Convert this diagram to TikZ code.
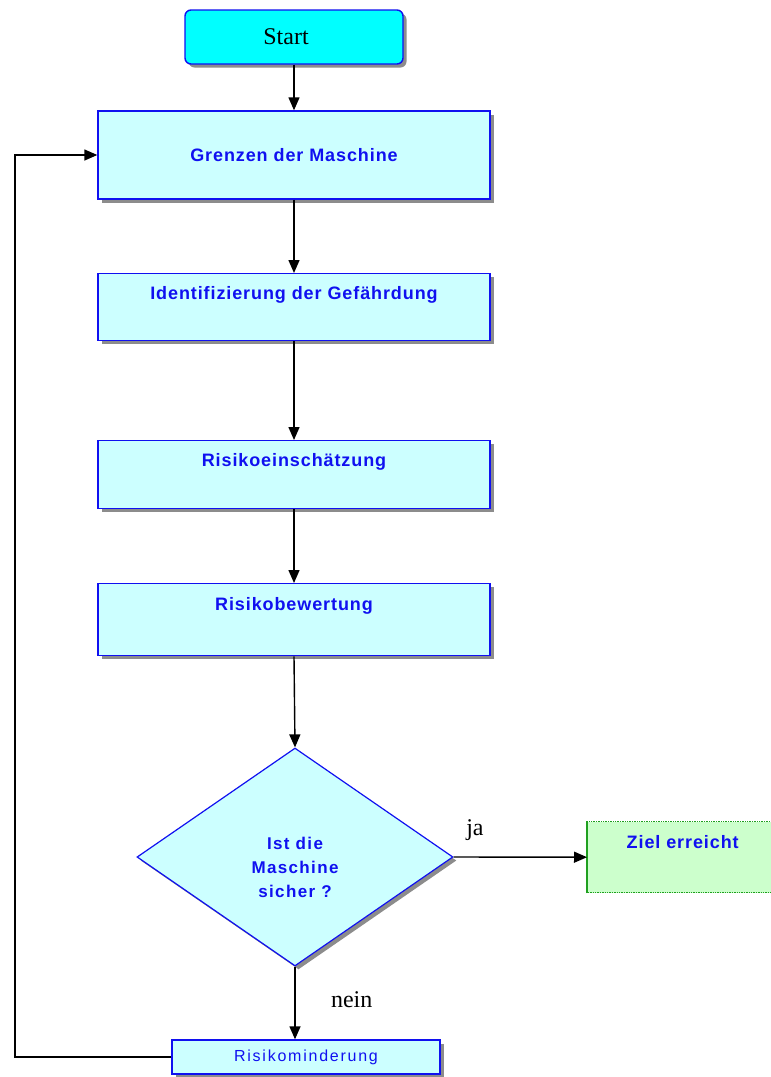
\documentclass[tikz,border=0pt]{standalone}
\usepackage{fontspec}
\setmainfont{Liberation Serif}
\setsansfont{Liberation Sans}
\newfontfamily\boxfont[LetterSpace=5]{Liberation Sans Bold}
\newfontfamily\diafont[LetterSpace=8]{Liberation Sans Bold}
\newfontfamily\rmfont[LetterSpace=11]{Liberation Sans}
\usetikzlibrary{arrows.meta,shapes.geometric,shadows}
\definecolor{startcyan}{HTML}{00FFFF}
\definecolor{lightcyan}{HTML}{CCFFFF}
\definecolor{lightgreen}{HTML}{CCFFCC}
\definecolor{boxblue}{HTML}{1010F0}
\definecolor{zielgreen}{HTML}{20A020}
\begin{document}
\begin{tikzpicture}[x=1pt,y=-1pt,
  shadowed/.style={drop shadow={shadow xshift=3.5pt,shadow yshift=-3.5pt,fill=black!45,opacity=1}},
  stepbox/.style={draw=boxblue,line width=1.4pt,fill=lightcyan,shadowed,inner xsep=0pt,inner ysep=0pt,
    minimum width=392pt,font=\boxfont\fontsize{18}{20}\selectfont,text=boxblue},
  diatext/.style={font=\diafont\fontsize{17}{24}\selectfont,text=boxblue,align=center},
  conn/.style={line width=1.4pt,-{Triangle[length=13pt,width=11pt]}},
  lbl/.style={font=\fontsize{24}{26}\selectfont,text=black}
]
\useasboundingbox (0,0) rectangle (771,1077);
\clip (0,0) rectangle (771,1077);

\node[draw=boxblue,line width=1.4pt,fill=startcyan,rounded corners=6pt,shadowed,
      minimum width=218pt,minimum height=54pt,font=\fontsize{24}{26}\selectfont] (start) at (294,37) {\kern-16pt Start};

\node[stepbox,text height=50pt,text depth=38pt] (g) at (294,155) {Grenzen der Maschine};
\node[stepbox,anchor=north,text height=26pt,text depth=41pt] (id) at (294,273) {Identifizierung der Gefährdung};
\node[stepbox,anchor=north,text height=26pt,text depth=42pt] (re) at (294,440) {Risikoeinschätzung};
\node[stepbox,anchor=north,text height=27pt,text depth=45pt] (rb) at (294,583) {Risikobewertung};

\node[diamond,draw=boxblue,line width=1.2pt,fill=lightcyan,shadowed,inner sep=0pt,
      minimum width=316pt,minimum height=218pt,
      label={[diatext,yshift=-10pt]center:Ist die\\Maschine\\sicher ?}] (d) at (295,857) {};

\node[draw=zielgreen,line width=1.4pt,densely dotted,fill=lightgreen,anchor=north west,
      inner xsep=0pt,inner ysep=0pt,minimum width=190pt,text height=27pt,text depth=44pt,
      font=\boxfont\fontsize{18}{20}\selectfont,text=boxblue] (ziel) at (587,821) {Ziel erreicht};
\draw[zielgreen,line width=1.4pt] (ziel.south west) -- (ziel.north west);

\node[draw=boxblue,line width=1.4pt,fill=lightcyan,shadowed,minimum width=268pt,minimum height=34pt,
      inner sep=0pt,font=\rmfont\fontsize{16}{18}\selectfont,text=boxblue] (rm) at (306,1057) {Risikominderung};

\coordinate (lp) at (15,0);

\draw[conn] (start.south) -- (g.north);
\draw[conn] (g.south) -- (id.north);
\draw[conn] (id.south) -- (re.north);
\draw[conn] (re.south) -- (rb.north);
\draw[conn] (rb.south) -- (d.north);
\draw[conn] (d.east) -- node[lbl,pos=0.16,anchor=south,yshift=12pt] {ja} (ziel.west);
\draw[conn] (d.south) -- node[lbl,pos=0.46,anchor=west,xshift=32pt] {nein} (d.south |- rm.north);
\draw[conn] (rm.west) -- (rm.west -| lp) |- (g.west);
\end{tikzpicture}
\end{document}
